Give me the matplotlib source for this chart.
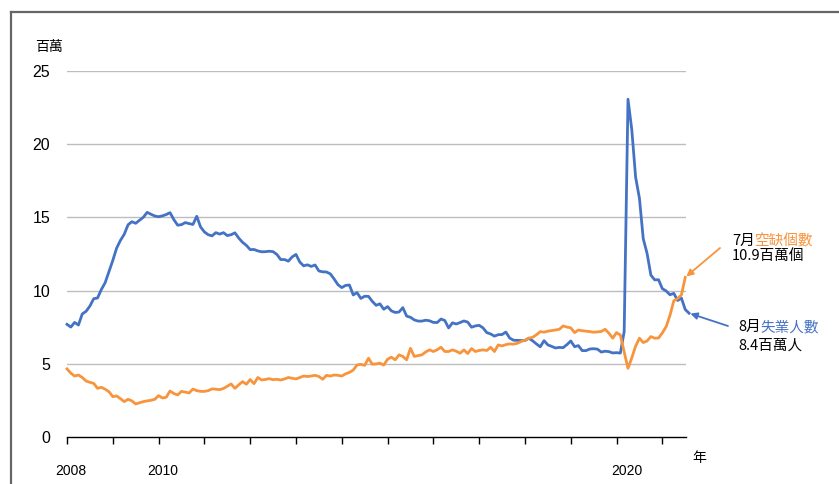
import numpy as np
import matplotlib.pyplot as plt
import matplotlib.transforms as mtransforms

plt.rcParams['font.family'] = ['Liberation Sans', 'Noto Sans CJK TC', 'DejaVu Sans']

# Monthly series starting Jan 2008 (millions)
unemployed = [
    7.69, 7.50, 7.82, 7.64, 8.40, 8.58, 8.94, 9.44, 9.49, 10.07, 10.54, 11.29,
    12.06, 12.90, 13.43, 13.85, 14.50, 14.71, 14.60, 14.81, 15.01, 15.35, 15.22, 15.10,
    15.05, 15.11, 15.20, 15.33, 14.85, 14.47, 14.51, 14.65, 14.58, 14.52, 15.08, 14.35,
    14.01, 13.82, 13.74, 13.96, 13.86, 13.96, 13.76, 13.82, 13.95, 13.59, 13.30, 13.09,
    12.80, 12.81, 12.71, 12.65, 12.66, 12.69, 12.66, 12.47, 12.12, 12.12, 12.01, 12.30,
    12.47, 11.95, 11.69, 11.76, 11.65, 11.75, 11.34, 11.28, 11.27, 11.14, 10.79, 10.40,
    10.20, 10.35, 10.38, 9.70, 9.86, 9.46, 9.61, 9.60, 9.26, 8.99, 9.09, 8.72,
    8.90, 8.61, 8.50, 8.53, 8.83, 8.25, 8.17, 7.99, 7.91, 7.91, 7.97, 7.93,
    7.82, 7.81, 8.05, 7.95, 7.44, 7.79, 7.71, 7.81, 7.92, 7.84, 7.49, 7.58,
    7.62, 7.45, 7.12, 7.03, 6.88, 6.98, 6.99, 7.16, 6.75, 6.60, 6.59, 6.58,
    6.58, 6.74, 6.56, 6.35, 6.15, 6.57, 6.28, 6.18, 6.07, 6.11, 6.09, 6.30,
    6.55, 6.16, 6.23, 5.89, 5.89, 6.00, 6.02, 5.99, 5.79, 5.85, 5.82, 5.73,
    5.75, 5.72, 7.19, 23.09, 20.99, 17.75, 16.31, 13.54, 12.54, 11.05, 10.73, 10.74,
    10.13, 9.97, 9.71, 9.81, 9.32, 9.48, 8.70, 8.45,
]

openings = [
    4.64, 4.35, 4.15, 4.22, 4.05, 3.81, 3.72, 3.65, 3.31, 3.38, 3.25, 3.08,
    2.74, 2.79, 2.60, 2.40, 2.56, 2.45, 2.24, 2.32, 2.40, 2.45, 2.49, 2.56,
    2.81, 2.65, 2.70, 3.13, 2.95, 2.86, 3.10, 3.05, 2.99, 3.26, 3.15, 3.10,
    3.10, 3.15, 3.27, 3.25, 3.22, 3.30, 3.45, 3.61, 3.31, 3.55, 3.77, 3.59,
    3.91, 3.63, 4.05, 3.88, 3.92, 3.97, 3.90, 3.93, 3.88, 3.95, 4.05, 4.00,
    3.95, 4.05, 4.15, 4.12, 4.15, 4.20, 4.12, 3.93, 4.20, 4.15, 4.22, 4.20,
    4.15, 4.30, 4.40, 4.56, 4.91, 4.95, 4.88, 5.37, 4.96, 4.98, 5.03, 4.90,
    5.30, 5.44, 5.26, 5.60, 5.49, 5.26, 6.05, 5.49, 5.55, 5.60, 5.80, 5.94,
    5.83, 5.95, 6.12, 5.83, 5.83, 5.94, 5.85, 5.71, 5.94, 5.69, 6.03, 5.83,
    5.90, 5.94, 5.90, 6.12, 5.83, 6.28, 6.21, 6.30, 6.35, 6.33, 6.39, 6.51,
    6.60, 6.74, 6.80, 6.97, 7.19, 7.15, 7.22, 7.26, 7.30, 7.35, 7.58, 7.50,
    7.45, 7.12, 7.30, 7.25, 7.22, 7.19, 7.15, 7.17, 7.20, 7.35, 7.08, 6.74,
    7.12, 6.96, 5.80, 4.68, 5.40, 6.20, 6.74, 6.44, 6.55, 6.85, 6.74, 6.75,
    7.10, 7.53, 8.30, 9.30, 9.45, 9.70, 10.90,
]

year_labels = ['2008', '', '2010', '', '', '', '', '', '', '', '', '', '2020', '']
y_ticks = [0, 5, 10, 15, 20, 25]

blue = '#4472C4'
orange = '#F7943C'
cjk = ['Noto Sans CJK TC', 'DejaVu Sans']

W, H = 839, 484
fig = plt.figure(figsize=(W / 100, H / 100), dpi=100)

def fx(px):
    return px / W

def fy(py):
    return 1 - py / H

# frame lines (top and left)
fig.add_artist(plt.Line2D([fx(11), 1], [fy(11.5), fy(11.5)], color='#666666', lw=1.6))
fig.add_artist(plt.Line2D([fx(11), fx(11)], [fy(11.5), 0], color='#666666', lw=1.6))

ax = fig.add_axes([fx(67), fy(436.7), fx(686) - fx(67), fy(71.3) - fy(436.7)])

x_u = np.arange(len(unemployed))
x_o = np.arange(len(openings))
ax.plot(x_u, unemployed, color=blue, lw=2.0, zorder=3, solid_joinstyle='round', clip_on=False)
ax.plot(x_o, openings, color=orange, lw=2.0, zorder=3, solid_joinstyle='round', clip_on=False)

ax.set_xlim(0, 162.2)
ax.set_ylim(0, 25)

for s in ['top', 'right', 'left']:
    ax.spines[s].set_visible(False)
ax.spines['bottom'].set_color('black')
ax.spines['bottom'].set_linewidth(1.0)

ax.set_yticks(y_ticks)
ax.set_yticklabels([str(v) for v in y_ticks], fontsize=11.5, family='Liberation Sans')
ax.tick_params(axis='y', length=0, pad=12)
for v in y_ticks[1:]:
    ax.axhline(v, color='#BDBDBD', lw=1.0, zorder=1)

ax.set_xticks(np.arange(0, 12 * len(year_labels), 12))
ax.set_xticklabels(year_labels, fontsize=10, family='Liberation Sans')
ax.tick_params(axis='x', direction='out', length=5, width=1.0, pad=15)
offsets = {'2008': 4, '2010': 4, '2020': 10}
for lab in ax.get_xticklabels():
    dx = offsets.get(lab.get_text(), 0)
    lab.set_transform(lab.get_transform() + mtransforms.ScaledTranslation(dx / 100, 0, fig.dpi_scale_trans))

fig.text(fx(35), fy(47), '百萬', fontsize=10, family=cjk, va='center', ha='left')
fig.text(fx(692), fy(458), '年', fontsize=10, family=cjk, va='center', ha='left')

# annotations
t1 = fig.text(fx(732), fy(241), '7月', fontsize=10.5, family=cjk, va='center', ha='left')
ax.annotate('空缺個數', xy=(1, 0.5), xycoords=t1, va='center', ha='left',
            fontsize=10.5, family=cjk, color=orange, annotation_clip=False)
fig.text(fx(732), fy(256), '10.9百萬個', fontsize=10.5, family=cjk, va='center', ha='left')

t2 = fig.text(fx(738), fy(327), '8月', fontsize=10.5, family=cjk, va='center', ha='left')
ax.annotate('失業人數', xy=(1, 0.5), xycoords=t2, va='center', ha='left',
            fontsize=10.5, family=cjk, color=blue, annotation_clip=False)
fig.text(fx(738), fy(346), '8.4百萬人', fontsize=10.5, family=cjk, va='center', ha='left')

ax.annotate('', xy=(len(openings) - 1, openings[-1]), xycoords='data',
            xytext=(fx(720), fy(248)), textcoords='figure fraction', annotation_clip=False,
            arrowprops=dict(arrowstyle='-|>', color=orange, lw=1.3,
                            mutation_scale=10, shrinkA=0, shrinkB=1))
ax.annotate('', xy=(len(unemployed) - 1, unemployed[-1]), xycoords='data',
            xytext=(fx(728), fy(326)), textcoords='figure fraction', annotation_clip=False,
            arrowprops=dict(arrowstyle='-|>', color=blue, lw=1.3,
                            mutation_scale=10, shrinkA=0, shrinkB=1))

fig.savefig('out.png', dpi=100)
